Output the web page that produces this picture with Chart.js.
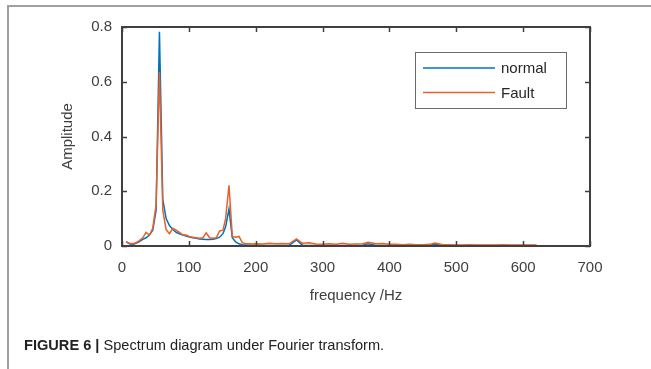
<!DOCTYPE html>
<html lang="en">
<head>
    <meta charset="UTF-8">
    <title>Spectrum diagram</title>
    <script src="https://cdn.jsdelivr.net/npm/chart.js"></script>
    <style>
        body {
            margin: 0;
            background: #fff;
            font-family: 'Liberation Sans', Arial, sans-serif;
        }
        .page {
            position: relative;
            width: 651px;
            height: 369px;
            overflow: hidden;
        }
        .frame-top {
            position: absolute;
            left: 7px;
            top: 5px;
            right: 0;
            height: 0;
            border-top: 2px solid #a0a0a0;
        }
        .frame-left {
            position: absolute;
            left: 7px;
            top: 5px;
            bottom: 0;
            width: 0;
            border-left: 2px solid #a0a0a0;
        }
        canvas {
            position: absolute;
            left: 0;
            top: 0;
        }
        .caption {
            position: absolute;
            left: 24px;
            top: 337px;
            font-size: 14.6px;
            color: #222;
            white-space: nowrap;
        }
        .caption b {
            font-weight: bold;
        }
    </style>
</head>
<body>
<div class="page">
    <div class="frame-top"></div>
    <div class="frame-left"></div>
    <canvas id="grafico" width="651" height="369"></canvas>
    <div class="caption"><b>FIGURE 6 |</b> Spectrum diagram under Fourier transform.</div>
</div>

<script>
    // frequencias (Hz)
    const freq = [
        6, 11, 16, 21, 26, 31, 36, 41, 46, 51,
        56, 61, 66, 71, 76, 81, 86, 91, 96, 101,
        106, 111, 116, 121, 126, 131, 136, 141, 146, 151,
        155, 160, 165, 170, 175, 180, 185, 190, 195, 200,
        210, 220, 230, 240, 250, 261, 270, 280, 290, 300,
        310, 320, 330, 340, 350, 360, 368, 380, 390, 400,
        410, 420, 430, 440, 450, 460, 468, 480, 490, 500,
        510, 520, 530, 540, 550, 560, 570, 580, 590, 600,
        610, 620
    ];

    const normal = [
        0.016, 0.008, 0.006, 0.010, 0.016, 0.024, 0.030, 0.040, 0.058, 0.130,
        0.783, 0.170, 0.100, 0.075, 0.060, 0.050, 0.045, 0.040, 0.036, 0.033,
        0.030, 0.028, 0.026, 0.025, 0.024, 0.024, 0.025, 0.027, 0.032, 0.045,
        0.070, 0.135, 0.030, 0.015, 0.008, 0.005, 0.004, 0.003, 0.003, 0.003,
        0.002, 0.002, 0.002, 0.002, 0.002, 0.022, 0.003, 0.002, 0.002, 0.002,
        0.002, 0.002, 0.002, 0.002, 0.002, 0.003, 0.008, 0.002, 0.002, 0.002,
        0.002, 0.002, 0.002, 0.002, 0.002, 0.002, 0.006, 0.002, 0.002, 0.002,
        0.002, 0.002, 0.002, 0.002, 0.002, 0.002, 0.002, 0.002, 0.002, 0.002,
        0.002, 0.002
    ];

    const fault = [
        0.015, 0.010, 0.008, 0.012, 0.020, 0.030, 0.050, 0.040, 0.065, 0.150,
        0.635, 0.130, 0.060, 0.045, 0.065, 0.058, 0.050, 0.040, 0.040, 0.034,
        0.032, 0.030, 0.028, 0.030, 0.048, 0.030, 0.028, 0.030, 0.055, 0.058,
        0.100, 0.222, 0.035, 0.032, 0.035, 0.012, 0.008, 0.008, 0.007, 0.008,
        0.007, 0.010, 0.008, 0.009, 0.008, 0.026, 0.010, 0.012, 0.007, 0.006,
        0.008, 0.006, 0.010, 0.006, 0.007, 0.008, 0.014, 0.008, 0.009, 0.006,
        0.006, 0.005, 0.006, 0.005, 0.005, 0.006, 0.011, 0.005, 0.005, 0.004,
        0.004, 0.005, 0.004, 0.004, 0.004, 0.004, 0.005, 0.004, 0.004, 0.004,
        0.004, 0.004
    ];

    const xTicks = [0, 100, 200, 300, 400, 500, 600, 700];
    const yTicks = [0, 0.2, 0.4, 0.6, 0.8];

    const corAzul = '#0072BD';
    const corLaranja = '#E8602A';
    const corEixo = '#404040';
    const fonte = "'Liberation Sans', Arial, sans-serif";

    // caixa do eixo + ticks para dentro (estilo matlab) + legenda
    const caixaMatlab = {
        id: 'caixaMatlab',
        afterDraw(chart) {
            const ctx = chart.ctx;
            const a = chart.chartArea;
            const sx = chart.scales.x;
            const sy = chart.scales.y;
            ctx.save();
            ctx.strokeStyle = corEixo;
            ctx.lineWidth = 2;
            ctx.strokeRect(a.left, a.top, a.right - a.left, a.bottom - a.top);
            ctx.lineWidth = 1.5;
            ctx.beginPath();
            xTicks.forEach(v => {
                const px = Math.round(sx.getPixelForValue(v)) + 0.5;
                ctx.moveTo(px, a.bottom); ctx.lineTo(px, a.bottom - 5);
                ctx.moveTo(px, a.top); ctx.lineTo(px, a.top + 5);
            });
            yTicks.forEach(v => {
                const py = Math.round(sy.getPixelForValue(v)) + 0.5;
                ctx.moveTo(a.left, py); ctx.lineTo(a.left + 5, py);
                ctx.moveTo(a.right, py); ctx.lineTo(a.right - 5, py);
            });
            ctx.stroke();

            // legenda
            ctx.fillStyle = '#fff';
            ctx.fillRect(415.5, 52.5, 151, 56);
            ctx.strokeStyle = '#6a6a6a';
            ctx.lineWidth = 1;
            ctx.strokeRect(415.5, 52.5, 151, 56);
            ctx.font = '15px ' + fonte;
            ctx.textBaseline = 'middle';
            ctx.textAlign = 'left';
            chart.data.datasets.forEach((ds, i) => {
                const y = 68 + i * 24.5;
                ctx.strokeStyle = ds.borderColor;
                ctx.lineWidth = 1.5;
                ctx.beginPath();
                ctx.moveTo(423, y);
                ctx.lineTo(495, y);
                ctx.stroke();
                ctx.fillStyle = '#262626';
                ctx.fillText(ds.label, 501, y + 1);
            });
            ctx.restore();
        }
    };

    const ctx = document.getElementById('grafico').getContext('2d');

    new Chart(ctx, {
        type: 'line',
        data: {
            datasets: [
                {
                    label: 'normal',
                    data: freq.map((f, i) => ({ x: f, y: normal[i] })),
                    borderColor: corAzul,
                    borderWidth: 1.5,
                    pointRadius: 0,
                    tension: 0,
                    order: 1
                },
                {
                    label: 'Fault',
                    data: freq.map((f, i) => ({ x: f, y: fault[i] })),
                    borderColor: corLaranja,
                    borderWidth: 1.5,
                    pointRadius: 0,
                    tension: 0,
                    order: 0
                }
            ]
        },
        options: {
            responsive: false,
            animation: false,
            events: [],
            layout: {
                padding: { left: 55, top: 27, right: 61, bottom: 63 }
            },
            plugins: {
                legend: { display: false },
                tooltip: { enabled: false }
            },
            scales: {
                x: {
                    type: 'linear',
                    min: 0,
                    max: 700,
                    afterBuildTicks: s => { s.ticks = xTicks.map(v => ({ value: v })); },
                    afterFit: s => { s.height = 60; },
                    grid: { display: false, drawTicks: false },
                    border: { display: false },
                    ticks: {
                        color: '#404040',
                        font: { family: fonte, size: 15 },
                        padding: 13,
                        maxRotation: 0
                    },
                    title: {
                        display: true,
                        text: 'frequency /Hz',
                        color: '#404040',
                        font: { family: fonte, size: 15 },
                        padding: { top: 0, bottom: 1 }
                    }
                },
                y: {
                    min: 0,
                    max: 0.8,
                    afterBuildTicks: s => { s.ticks = yTicks.map(v => ({ value: v })); },
                    afterFit: s => { s.width = 67; },
                    grid: { display: false, drawTicks: false },
                    border: { display: false },
                    ticks: {
                        color: '#404040',
                        font: { family: fonte, size: 15 },
                        padding: 10,
                        callback: v => String(Math.round(v * 10) / 10)
                    },
                    title: {
                        display: true,
                        text: 'Amplitude',
                        color: '#404040',
                        font: { family: fonte, size: 15 },
                        padding: { top: 4, bottom: 0 }
                    }
                }
            }
        },
        plugins: [caixaMatlab]
    });
</script>
</body>
</html>
